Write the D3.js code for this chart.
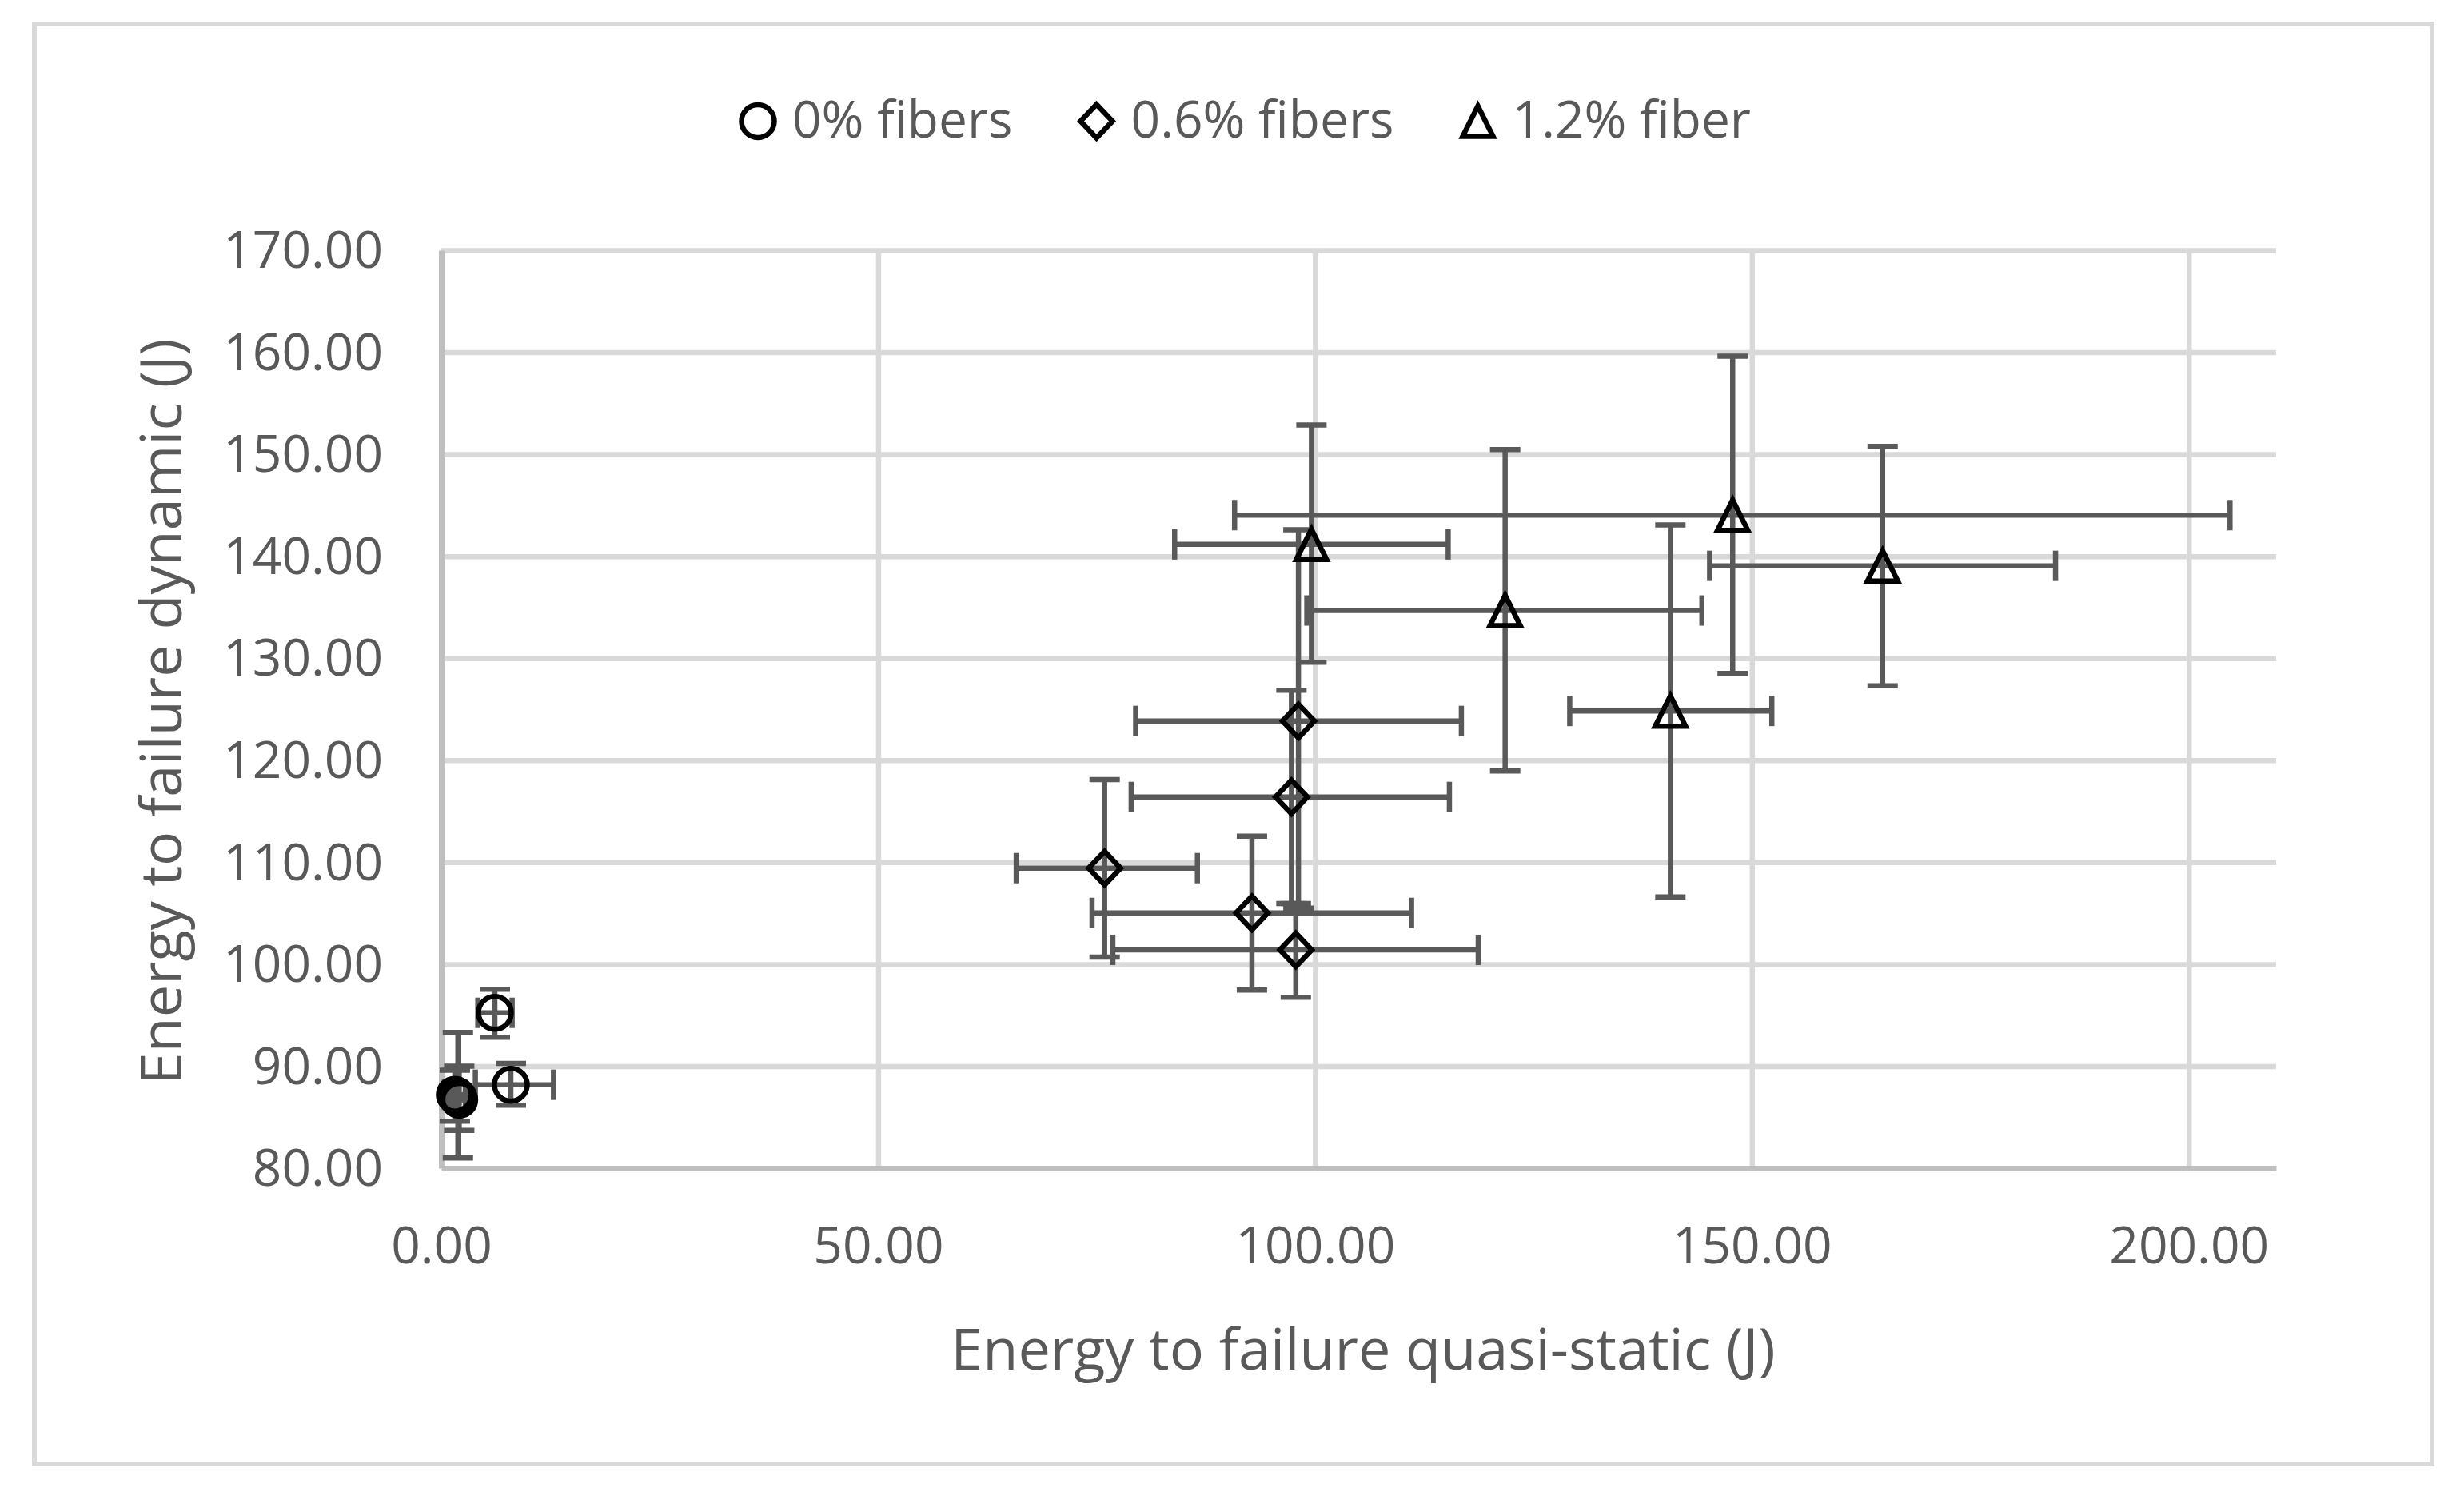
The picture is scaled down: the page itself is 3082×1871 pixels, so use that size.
<!DOCTYPE html>
<html>
<head>
<meta charset="utf-8">
<script src="https://cdn.jsdelivr.net/npm/d3@7"></script>
<style>
  body { margin: 0; background: #fff; }
  svg { display: block; }
</style>
</head>
<body>
<script>
/* ---- data ---- */
var seriesNames = ['0% fibers', '0.6% fibers', '1.2% fiber'];

// 0% fibers
var fib0X   = [6.13, 7.96, 1.9, 1.55, 2.05];
var fib0Y   = [95.23, 88.18, 87.0, 87.2, 86.7];
var fib0XLo = [4.18, 3.9, 0.9, 0.35, 1.15];
var fib0XHi = [8.11, 12.84, 2.9, 2.75, 2.95];
var fib0YLo = [92.83, 86.17, 81.0, 84.6, 83.7];
var fib0YHi = [97.54, 90.27, 93.3, 89.6, 90.0];

// 0.6% fibers
var fib06X   = [98.1, 97.3, 75.92, 92.78, 97.8];
var fib06Y   = [123.85, 116.4, 109.42, 105.03, 101.4];
var fib06XLo = [79.47, 78.96, 65.8, 74.48, 76.86];
var fib06XHi = [116.75, 115.38, 86.54, 111.05, 118.68];
var fib06YLo = [105.5, 105.95, 100.7, 97.46, 96.75];
var fib06YHi = [142.6, 126.86, 118.1, 112.56, 105.95];

// 1.2% fiber
var fib12X   = [99.59, 121.76, 140.67, 147.8, 164.96];
var fib12Y   = [141.16, 134.68, 124.83, 144.03, 139.06];
var fib12XLo = [83.93, 99.06, 129.15, 90.79, 145.16];
var fib12XHi = [115.24, 144.28, 152.28, 204.72, 184.75];
var fib12YLo = [129.6, 118.95, 106.6, 128.5, 127.3];
var fib12YHi = [152.87, 150.45, 143.07, 159.62, 150.78];

var xTicks = [0, 50, 100, 150, 200];
var yTicks = [80, 90, 100, 110, 120, 130, 140, 150, 160, 170];

var xTitle = 'Energy to failure quasi-static (J)';
var yTitle = 'Energy to failure dynamic (J)';

/* ---- build ---- */
function rows(xs, ys, xlo, xhi, ylo, yhi) {
  var out = [];
  for (var i = 0; i < xs.length; i++) {
    out.push({ x: xs[i], y: ys[i], xlo: xlo[i], xhi: xhi[i], ylo: ylo[i], yhi: yhi[i] });
  }
  return out;
}
var series = [
  { name: seriesNames[0], shape: 'circle',   pts: rows(fib0X, fib0Y, fib0XLo, fib0XHi, fib0YLo, fib0YHi) },
  { name: seriesNames[1], shape: 'diamond',  pts: rows(fib06X, fib06Y, fib06XLo, fib06XHi, fib06YLo, fib06YHi) },
  { name: seriesNames[2], shape: 'triangle', pts: rows(fib12X, fib12Y, fib12XLo, fib12XHi, fib12YLo, fib12YHi) }
];

var W = 3082, H = 1871;
var plotL = 552, plotR = 2847, plotT = 313, plotB = 1461;
var font = "'Open Sans', 'Noto Sans', sans-serif";
var grey = '#595959';

var svg = d3.select('body').append('svg')
  .attr('width', W).attr('height', H);

svg.append('rect')
  .attr('x', 43).attr('y', 30)
  .attr('width', 3042 - 43).attr('height', 1831 - 30)
  .attr('fill', '#fff').attr('stroke', '#d9d9d9').attr('stroke-width', 6);

var x = d3.scaleLinear().domain([0, 210]).range([plotL, plotR]);
var y = d3.scaleLinear().domain([80, 170]).range([plotB, plotT]);

// gridlines
svg.append('g')
  .attr('transform', 'translate(' + plotL + ',0)')
  .call(d3.axisLeft(y).tickValues(yTicks.slice(1)).tickSize(-(plotR - plotL)).tickFormat(''))
  .call(function (g) {
    g.select('.domain').remove();
    g.selectAll('line').attr('stroke', '#d9d9d9').attr('stroke-width', 6.5);
  });
svg.append('g')
  .attr('transform', 'translate(0,' + plotB + ')')
  .call(d3.axisBottom(x).tickValues(xTicks.slice(1)).tickSize(-(plotB - plotT)).tickFormat(''))
  .call(function (g) {
    g.select('.domain').remove();
    g.selectAll('line').attr('stroke', '#d9d9d9').attr('stroke-width', 6.5);
  });

// axis lines + labels
svg.append('g')
  .attr('transform', 'translate(' + plotL + ',0)')
  .call(d3.axisLeft(y).tickValues(yTicks).tickSize(0).tickPadding(73).tickFormat(d3.format('.2f')))
  .call(function (g) {
    g.select('.domain').attr('stroke', '#bfbfbf').attr('stroke-width', 7);
    g.selectAll('text').attr('font-family', font).attr('font-size', 64).attr('fill', grey).attr('dy', '0.34em');
  });
svg.append('g')
  .attr('transform', 'translate(0,' + plotB + ')')
  .call(d3.axisBottom(x).tickValues(xTicks).tickSize(0).tickPadding(74).tickFormat(d3.format('.2f')))
  .call(function (g) {
    g.select('.domain').attr('stroke', '#bfbfbf').attr('stroke-width', 7);
    g.selectAll('text').attr('font-family', font).attr('font-size', 64).attr('fill', grey);
  });

// axis titles
svg.append('text')
  .attr('x', 1705).attr('y', 1713)
  .attr('text-anchor', 'middle')
  .attr('font-family', font).attr('font-size', 72).attr('fill', grey)
  .text(xTitle);
svg.append('text')
  .attr('transform', 'translate(227,890) rotate(-90)')
  .attr('text-anchor', 'middle')
  .attr('font-family', font).attr('font-size', 72).attr('fill', grey)
  .text(yTitle);

// marker shapes
function markerPath(shape) {
  if (shape === 'diamond') return 'M0,-21L20,0L0,21L-20,0Z';
  if (shape === 'triangle') return 'M0,-19L19,19L-19,19Z';
  return d3.arc()({ innerRadius: 0, outerRadius: 20.5, startAngle: 0, endAngle: 2 * Math.PI });
}

// error bars
var cap = 19;
var bars = svg.append('g').attr('stroke', grey).attr('stroke-width', 6.5).attr('fill', 'none');
series.forEach(function (s) {
  s.pts.forEach(function (d) {
    var g = bars.append('g');
    g.append('line').attr('x1', x(d.xlo)).attr('x2', x(d.xhi)).attr('y1', y(d.y)).attr('y2', y(d.y));
    g.append('line').attr('x1', x(d.xlo)).attr('x2', x(d.xlo)).attr('y1', y(d.y) - cap).attr('y2', y(d.y) + cap);
    g.append('line').attr('x1', x(d.xhi)).attr('x2', x(d.xhi)).attr('y1', y(d.y) - cap).attr('y2', y(d.y) + cap);
    g.append('line').attr('x1', x(d.x)).attr('x2', x(d.x)).attr('y1', y(d.ylo)).attr('y2', y(d.yhi));
    g.append('line').attr('x1', x(d.x) - cap).attr('x2', x(d.x) + cap).attr('y1', y(d.ylo)).attr('y2', y(d.ylo));
    g.append('line').attr('x1', x(d.x) - cap).attr('x2', x(d.x) + cap).attr('y1', y(d.yhi)).attr('y2', y(d.yhi));
  });
});

// markers
series.forEach(function (s) {
  svg.append('g').selectAll('path')
    .data(s.pts)
    .enter()
    .append('path')
      .attr('d', markerPath(s.shape))
      .attr('transform', function (d) { return 'translate(' + x(d.x) + ',' + y(d.y) + ')'; })
      .attr('fill', 'none')
      .attr('stroke', '#000')
      .attr('stroke-width', 6.5)
      .attr('stroke-linejoin', 'miter');
});

// legend
var legend = svg.append('g');
var lx = 0;
series.forEach(function (s, i) {
  var item = legend.append('g').attr('transform', 'translate(' + lx + ',0)');
  item.append('path')
    .attr('d', markerPath(s.shape))
    .attr('transform', 'translate(24,151.5)')
    .attr('fill', 'none').attr('stroke', '#000').attr('stroke-width', 6.5);
  var t = item.append('text')
    .attr('x', 67).attr('y', 172)
    .attr('font-family', font).attr('font-size', 64).attr('fill', grey)
    .text(s.name);
  lx += 67 + t.node().getComputedTextLength() + 81;
});
var legW = lx - 81;
legend.attr('transform', 'translate(' + (1557 - legW / 2) + ',0)');
</script>
</body>
</html>
